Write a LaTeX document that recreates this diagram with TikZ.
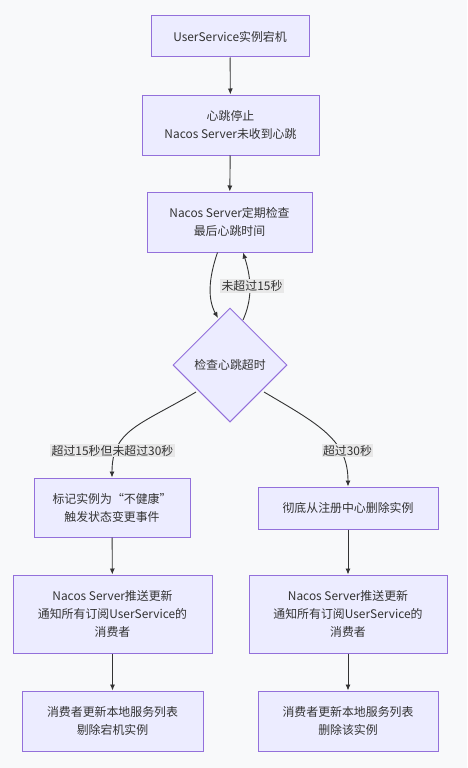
\documentclass[tikz,border=0pt]{standalone}
\usepackage{fontspec}
\setmainfont{Noto Sans CJK SC}
\usetikzlibrary{shapes.geometric,arrows.meta}
\definecolor{bgc}{HTML}{F8F9FA}
\definecolor{boxfill}{HTML}{ECECFF}
\definecolor{boxdraw}{HTML}{9370DB}
\definecolor{edgec}{HTML}{333333}
\definecolor{lblbg}{HTML}{E8E8E8}
\definecolor{txt}{HTML}{333333}
\tikzset{
  box/.style={draw=boxdraw, fill=boxfill, line width=1pt, rectangle, inner sep=0pt, align=center, text=txt, font=\fontsize{11.9}{18}\selectfont},
  dia/.style={draw=boxdraw, fill=boxfill, line width=1pt, diamond, inner sep=0pt, minimum width=114pt, minimum height=114pt, text=txt, font=\fontsize{11.9}{18}\selectfont},
  edge/.style={draw=edgec, line width=0.9pt, -{Latex[length=6pt,width=5pt]}},
  lbl/.style={fill=lblbg, inner sep=1.5pt, text=txt, font=\fontsize{11.9}{14}\selectfont},
}
\begin{document}
\begin{tikzpicture}[x=1pt,y=-1pt]
\path[fill=bgc] (0,0) rectangle (467,768);
\useasboundingbox (0,0) rectangle (467,768);
\node[box, minimum width=158pt, minimum height=41pt] (b1) at (230,36.5) {UserService实例宕机};
\node[box, minimum width=177pt, minimum height=60pt] (b2) at (230.5,125) {心跳停止\\Nacos Server未收到心跳};
\node[box, minimum width=165pt, minimum height=60pt] (b3) at (229.5,222) {Nacos Server定期检查\\最后心跳时间};
\node[dia] (d) at (230,365) {检查心跳超时};
\node[box, minimum width=156pt, minimum height=59pt] (l1) at (112,507.5) {标记实例为“不健康”\\触发状态变更事件};
\node[box, minimum width=180pt, minimum height=42pt] (r1) at (348,508) {彻底从注册中心删除实例};
\node[box, minimum width=199pt, minimum height=78pt] (l2) at (112.5,614) {Nacos Server推送更新\\通知所有订阅UserService的\\消费者};
\node[box, minimum width=198pt, minimum height=78pt] (r2) at (348,614) {Nacos Server推送更新\\通知所有订阅UserService的\\消费者};
\node[box, minimum width=181pt, minimum height=60pt] (l3) at (112.5,721) {消费者更新本地服务列表\\剔除宕机实例};
\node[box, minimum width=180pt, minimum height=60pt] (r3) at (348,721) {消费者更新本地服务列表\\删除该实例};

\draw[edge] (b1) -- (b2);
\draw[edge] (b2) -- (b3);
\draw[edge] ([xshift=-12pt]b3.south) .. controls (208,280) and (208,300) .. (218,318);
\draw[edge] (243,320) .. controls (252,300) and (252,280) .. ([xshift=13.5pt]b3.south);
\draw[edge] (196,392) .. controls (140,425) and (112,430) .. (l1.north);
\draw[edge] (264,392) .. controls (320,425) and (348,440) .. (r1.north);
\draw[edge] (l1) -- (l2);
\draw[edge] (l2) -- (l3);
\draw[edge] (r1) -- (r2);
\draw[edge] (r2) -- (r3);

\node[lbl] (t1) at (252,286) {未超过15秒};
\node[lbl] (t2) at (112.5,450.5) {超过15秒但未超过30秒};
\node[lbl] (t3) at (347.5,450.5) {超过30秒};
\end{tikzpicture}
\end{document}
